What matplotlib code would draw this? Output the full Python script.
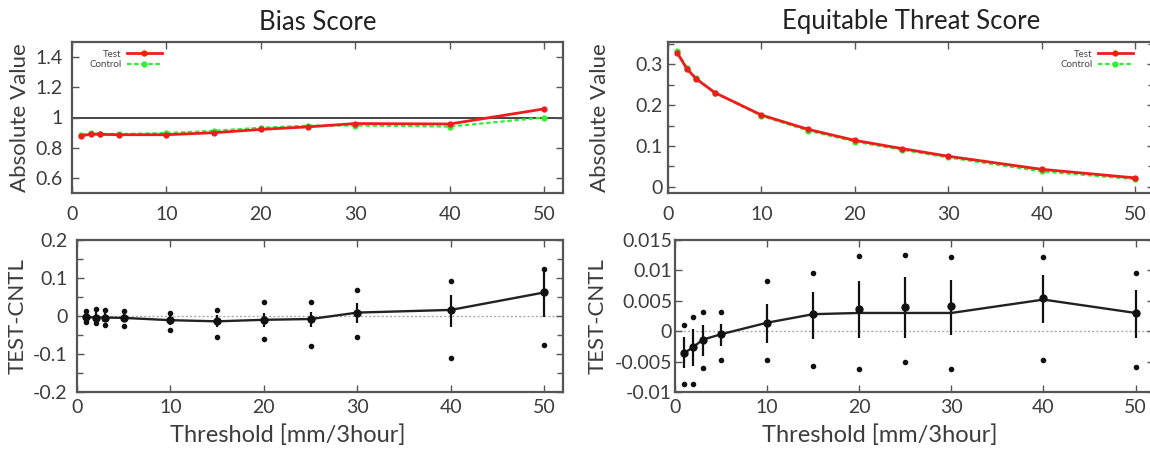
import numpy as np
import matplotlib
matplotlib.use("Agg")
import matplotlib.pyplot as plt
from matplotlib.ticker import MultipleLocator

plt.rcParams['font.family'] = ['Lato', 'DejaVu Sans']

# ---------------- data ----------------
thresholds = [1, 2, 3, 5, 10, 15, 20, 25, 30, 40, 50]

bias_test = [0.879, 0.890, 0.888, 0.886, 0.886, 0.899, 0.921, 0.938, 0.960, 0.957, 1.057]
bias_ctrl = [0.884, 0.897, 0.892, 0.890, 0.897, 0.912, 0.932, 0.946, 0.947, 0.940, 1.000]

ets_test = [0.328, 0.290, 0.265, 0.231, 0.176, 0.141, 0.114, 0.094, 0.075, 0.043, 0.022]
ets_ctrl = [0.332, 0.292, 0.266, 0.231, 0.174, 0.138, 0.111, 0.091, 0.072, 0.038, 0.019]

# TEST-CNTL, bias score
bias_diff_line = [-0.003, -0.004, -0.004, -0.005, -0.011, -0.014, -0.010, -0.008, 0.009, 0.016, 0.062]
bias_diff_mean = [-0.003, -0.004, -0.004, -0.005, -0.011, -0.014, -0.010, -0.008, 0.009, 0.016, 0.062]
bias_bar_hi = [0.011, 0.014, 0.012, 0.009, 0.002, 0.003, 0.007, 0.010, 0.035, 0.055, 0.124]
bias_bar_lo = [-0.013, -0.015, -0.017, -0.017, -0.024, -0.028, -0.030, -0.030, -0.019, -0.030, -0.002]
bias_dot_hi = [0.012, 0.018, 0.015, 0.014, 0.009, 0.015, 0.036, 0.037, 0.068, 0.092, 0.124]
bias_dot_lo = [-0.015, -0.019, -0.024, -0.025, -0.038, -0.054, -0.061, -0.080, -0.054, -0.111, -0.077]

# TEST-CNTL, equitable threat score
ets_diff_line = [-0.0036, -0.0026, -0.0014, -0.0005, 0.0014, 0.0028, 0.0030, 0.0030, 0.0030, 0.0052, 0.0030]
ets_diff_mean = [-0.0036, -0.0026, -0.0014, -0.0005, 0.0014, 0.0028, 0.0036, 0.0040, 0.0041, 0.0055, 0.0030]
ets_bar_hi = [-0.0009, 0.0004, 0.0010, 0.0012, 0.0044, 0.0065, 0.0082, 0.0089, 0.0085, 0.0092, 0.0068]
ets_bar_lo = [-0.0061, -0.0058, -0.0040, -0.0024, -0.0020, -0.0013, -0.0011, -0.0011, -0.0007, 0.0013, -0.0011]
ets_dot_hi = [0.0011, 0.0023, 0.0032, 0.0031, 0.0082, 0.0096, 0.0123, 0.0126, 0.0122, 0.0122, 0.0095]
ets_dot_lo = [-0.0087, -0.0087, -0.0060, -0.0047, -0.0048, -0.0057, -0.0062, -0.0051, -0.0062, -0.0047, -0.0059]

x_ticks = [0, 10, 20, 30, 40, 50]

# ---------------- style ----------------
FRAME = '#555555'
TXT = '#3c3c3c'
RED = '#ee1c1c'
GREEN = '#33ee33'

W, H = 1150, 449
fig = plt.figure(figsize=(W / 100, H / 100), dpi=100)


def box(l, t, r, b):
    return [l / W, 1 - b / H, (r - l) / W, (b - t) / H]


ax_tl = fig.add_axes(box(72, 42, 563, 193))
ax_bl = fig.add_axes(box(77, 240, 563, 392))
ax_tr = fig.add_axes(box(668, 42, 1154, 193))
ax_br = fig.add_axes(box(675, 240, 1154, 392))

for ax in (ax_tl, ax_bl, ax_tr, ax_br):
    for s in ax.spines.values():
        s.set_color(FRAME)
        s.set_linewidth(1.6)
    ax.tick_params(which='both', direction='in', top=True, right=True,
                   colors=FRAME, labelcolor=TXT, labelsize=14)
    ax.tick_params(which='major', length=5, width=1)
    ax.tick_params(which='minor', length=4, width=1)
    ax.set_xlim(0, 52)
    ax.set_xticks(x_ticks)
    ax.set_xticklabels([str(t) for t in x_ticks])

ax_tl.tick_params(axis='x', pad=9)
ax_tr.tick_params(axis='x', pad=9)
ax_bl.tick_params(axis='x', pad=5)
ax_br.tick_params(axis='x', pad=5)
ax_tl.tick_params(axis='y', pad=7)
ax_tr.tick_params(axis='y', pad=4)
ax_bl.tick_params(axis='y', pad=7)
ax_br.tick_params(axis='y', pad=2)

# ---- top-left: Bias score ----
ax_tl.axhline(1.0, color='#444444', lw=1.4, zorder=1)
ax_tl.plot(thresholds, bias_test, color=RED, lw=2.0, marker='o', ms=3.5, label='Test', zorder=3)
ax_tl.plot(thresholds, bias_ctrl, color=GREEN, lw=1.6, ls=(0, (2, 1.2)), marker='o', ms=3.5,
           label='Control', zorder=2)
ax_tl.set_ylim(0.5, 1.5)
ax_tl.set_yticks([0.6, 0.8, 1.0, 1.2, 1.4])
ax_tl.set_yticklabels(['0.6', '0.8', '1', '1.2', '1.4'])
ax_tl.set_title('Bias Score', fontsize=18.5, color='#222222', pad=9)
ax_tl.set_ylabel('Absolute Value', fontsize=16, color=TXT, va='center')
ax_tl.yaxis.set_label_coords((20 - 72) / 491, 0.5)
ax_tl.legend(loc='upper left', bbox_to_anchor=(0.02, 1.0), markerfirst=False, frameon=False,
             fontsize=7, handlelength=3.6, handletextpad=0.5, labelspacing=0.15,
             borderpad=0.3, labelcolor='#444444')

# ---- top-right: ETS ----
ax_tr.plot(thresholds, ets_test, color=RED, lw=2.0, marker='o', ms=3.5, label='Test', zorder=3)
ax_tr.plot(thresholds, ets_ctrl, color=GREEN, lw=1.6, ls=(0, (2, 1.2)), marker='o', ms=3.5,
           label='Control', zorder=2)
ax_tr.set_ylim(-0.015, 0.355)
ax_tr.set_yticks([0, 0.1, 0.2, 0.3])
ax_tr.set_yticklabels(['0', '0.1', '0.2', '0.3'])
ax_tr.yaxis.set_minor_locator(MultipleLocator(0.05))
ax_tr.set_title('Equitable Threat Score', fontsize=18.5, color='#222222', pad=9)
ax_tr.set_ylabel('Absolute Value', fontsize=16, color=TXT, va='center')
ax_tr.yaxis.set_label_coords((600 - 668) / 486, 0.5)
ax_tr.legend(loc='upper right', bbox_to_anchor=(0.972, 1.0), markerfirst=False, frameon=False,
             fontsize=7, handlelength=3.6, handletextpad=0.5, labelspacing=0.15,
             borderpad=0.3, labelcolor='#444444')


def diff_panel(ax, line, mean, lo, hi, dlo, dhi):
    ax.axhline(0, color='#aaaaaa', lw=1.0, ls=(0, (1.5, 1.5)), zorder=1)
    ax.vlines(thresholds, lo, hi, color='#111111', lw=1.6, zorder=3)
    ax.plot(thresholds, line, color='#222222', lw=1.7, zorder=3)
    ax.plot(thresholds, mean, ls='none', marker='o', ms=5, color='#111111', zorder=4)
    ax.plot(thresholds, dhi, ls='none', marker='o', ms=3, color='#111111', zorder=4)
    ax.plot(thresholds, dlo, ls='none', marker='o', ms=3, color='#111111', zorder=4)
    ax.set_ylabel('TEST-CNTL', fontsize=16, color=TXT, va='center')
    ax.set_xlabel('Threshold [mm/3hour]', fontsize=17, color=TXT, va='center')


# ---- bottom-left ----
diff_panel(ax_bl, bias_diff_line, bias_diff_mean, bias_bar_lo, bias_bar_hi, bias_dot_lo, bias_dot_hi)
ax_bl.set_ylim(-0.2, 0.2)
ax_bl.set_yticks([-0.2, -0.1, 0, 0.1, 0.2])
ax_bl.set_yticklabels(['-0.2', '-0.1', '0', '0.1', '0.2'])
ax_bl.yaxis.set_minor_locator(MultipleLocator(0.05))
ax_bl.yaxis.set_label_coords((18 - 77) / 486, 0.5)
ax_bl.xaxis.set_label_coords((288 - 77) / 486, -(435 - 392) / 152)

# ---- bottom-right ----
diff_panel(ax_br, ets_diff_line, ets_diff_mean, ets_bar_lo, ets_bar_hi, ets_dot_lo, ets_dot_hi)
ax_br.set_ylim(-0.01, 0.015)
ax_br.set_yticks([-0.01, -0.005, 0, 0.005, 0.01, 0.015])
ax_br.set_yticklabels(['-0.01', '-0.005', '0', '0.005', '0.01', '0.015'])
ax_br.yaxis.set_label_coords((598 - 675) / 479, 0.5)
ax_br.xaxis.set_label_coords((880 - 675) / 479, -(435 - 392) / 152)

fig.savefig('out.png', dpi=100)
